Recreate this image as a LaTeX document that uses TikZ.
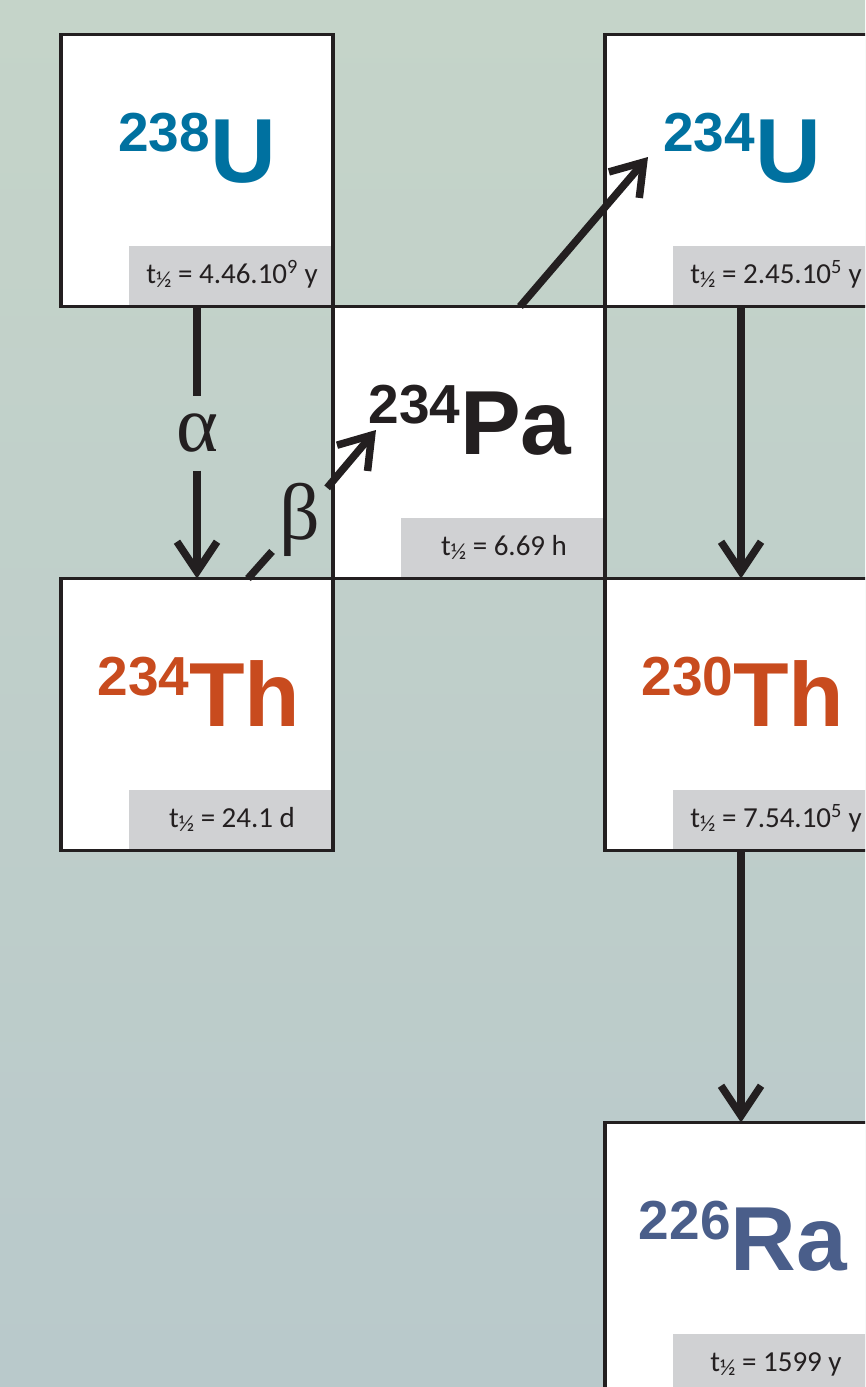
\documentclass[tikz,border=0pt]{standalone}
\usepackage{fontspec}
\setmainfont{Carlito}
\newfontfamily\arialf{Liberation Sans}
\newfontfamily\greekf{Liberation Serif}
\usetikzlibrary{arrows.meta}
\definecolor{bgtop}{RGB}{197,212,201}
\definecolor{bgbot}{RGB}{185,201,203}
\definecolor{ink}{HTML}{231F20}
\definecolor{uran}{HTML}{0071A0}
\definecolor{thor}{HTML}{C84B1E}
\definecolor{radi}{HTML}{4A5E8A}
\definecolor{hl}{HTML}{D0D1D3}
\newcommand{\isotope}[3]{{\arialf\bfseries\color{#3}\fontsize{55}{55}\selectfont\raisebox{31pt}{#1}\fontsize{91}{91}\selectfont #2}}
\newcommand{\thalf}[1]{t\raisebox{-4pt}{\fontsize{23}{23}\selectfont ½} = #1}
\tikzset{
  box/.style={minimum size=272pt, inner sep=0pt, outer sep=0pt, fill=white},
  frame/.style={draw=ink, line width=3.5pt},
  hlbox/.style={fill=hl, minimum width=204pt, minimum height=61pt, anchor=south east, inner sep=0pt, outer sep=0pt},
  isolbl/.style={anchor=base, inner sep=0pt},
  hltxt/.style={anchor=base, inner sep=0pt, font=\fontsize{29}{29}\selectfont, text=ink},
  link/.style={draw=ink, line width=7.5pt},
  decay/.style={draw=ink, line width=7.5pt, -{Straight Barb[length=30pt 0 0, width=40pt 0 0]}},
  glbl/.style={circle, minimum size=74pt, inner sep=0pt, font=\greekf\fontsize{80}{80}\selectfont, text=ink}
}
\begin{document}
\begin{tikzpicture}[x=1pt, y=-1pt]
\useasboundingbox (0,0) rectangle (865,1387);
\clip (0,0) rectangle (865,1387);
\shade[top color=bgtop, bottom color=bgbot] (0,0) rectangle (865,1387);
% boxes
\node[box] (U238) at (197,170.5) {};
\node[box] (Pa234) at (469,442.5) {};
\node[box] (U234) at (741,170.5) {};
\node[box] (Th234) at (197,714.5) {};
\node[box] (Th230) at (741,714.5) {};
\node[box] (Ra226) at (741,1258.5) {};
% half-life boxes
\node[hlbox] (hU238) at (U238.south east) {};
\node[hlbox] (hPa234) at (Pa234.south east) {};
\node[hlbox] (hU234) at (U234.south east) {};
\node[hlbox] (hTh234) at (Th234.south east) {};
\node[hlbox] (hTh230) at (Th230.south east) {};
\node[hlbox] (hRa226) at (Ra226.south east) {};
% frames
\draw[frame] (U238.north west) rectangle (U238.south east);
\draw[frame] (Pa234.north west) rectangle (Pa234.south east);
\draw[frame] (U234.north west) rectangle (U234.south east);
\draw[frame] (Th234.north west) rectangle (Th234.south east);
\draw[frame] (Th230.north west) rectangle (Th230.south east);
\draw[frame] (Ra226.north west) rectangle (Ra226.south east);
% isotope labels
\node[isolbl] (lU238) at (197,182.5) {\isotope{238}{U}{uran}};
\node[isolbl] (lPa234) at (470,454.5) {\isotope{234}{Pa}{ink}};
\node[isolbl] (lU234) at (742,182.5) {\isotope{234}{U}{uran}};
\node[isolbl] (lTh234) at (199,726.5) {\isotope{234}{Th}{thor}};
\node[isolbl] (lTh230) at (743,726.5) {\isotope{230}{Th}{thor}};
\node[isolbl] (lRa226) at (743,1270.5) {\isotope{226}{Ra}{radi}};
% half-life texts
\node[hltxt] (tU238) at (232,283) {\thalf{4.46.10\textsuperscript{9} y}};
\node[hltxt] (tPa234) at (504,555) {\thalf{6.69 h}};
\node[hltxt] (tU234) at (776,283) {\thalf{2.45.10\textsuperscript{5} y}};
\node[hltxt] (tTh234) at (232,827) {\thalf{24.1 d}};
\node[hltxt] (tTh230) at (776,827) {\thalf{7.54.10\textsuperscript{5} y}};
\node[hltxt] (tRa226) at (776,1371) {\thalf{1599 y}};
% decay arrows
\node[glbl] (alpha) at (197,433.5) {α};
\node[glbl] (beta) at (300,520) {β};
\coordinate (b0) at (248,578.5);
\coordinate (b1) at (376,430);
\coordinate (c0) at (520,306.5);
\coordinate (c1) at (648,157);
\draw[link] (U238.south) -- (alpha);
\draw[decay] (alpha) -- (Th234.north);
\draw[link] (b0) -- (beta);
\draw[decay] (beta) -- (b1);
\draw[decay] (c0) -- (c1);
\draw[decay] (U234.south) -- (Th230.north);
\draw[decay] (Th230.south) -- (Ra226.north);
\end{tikzpicture}
\end{document}
